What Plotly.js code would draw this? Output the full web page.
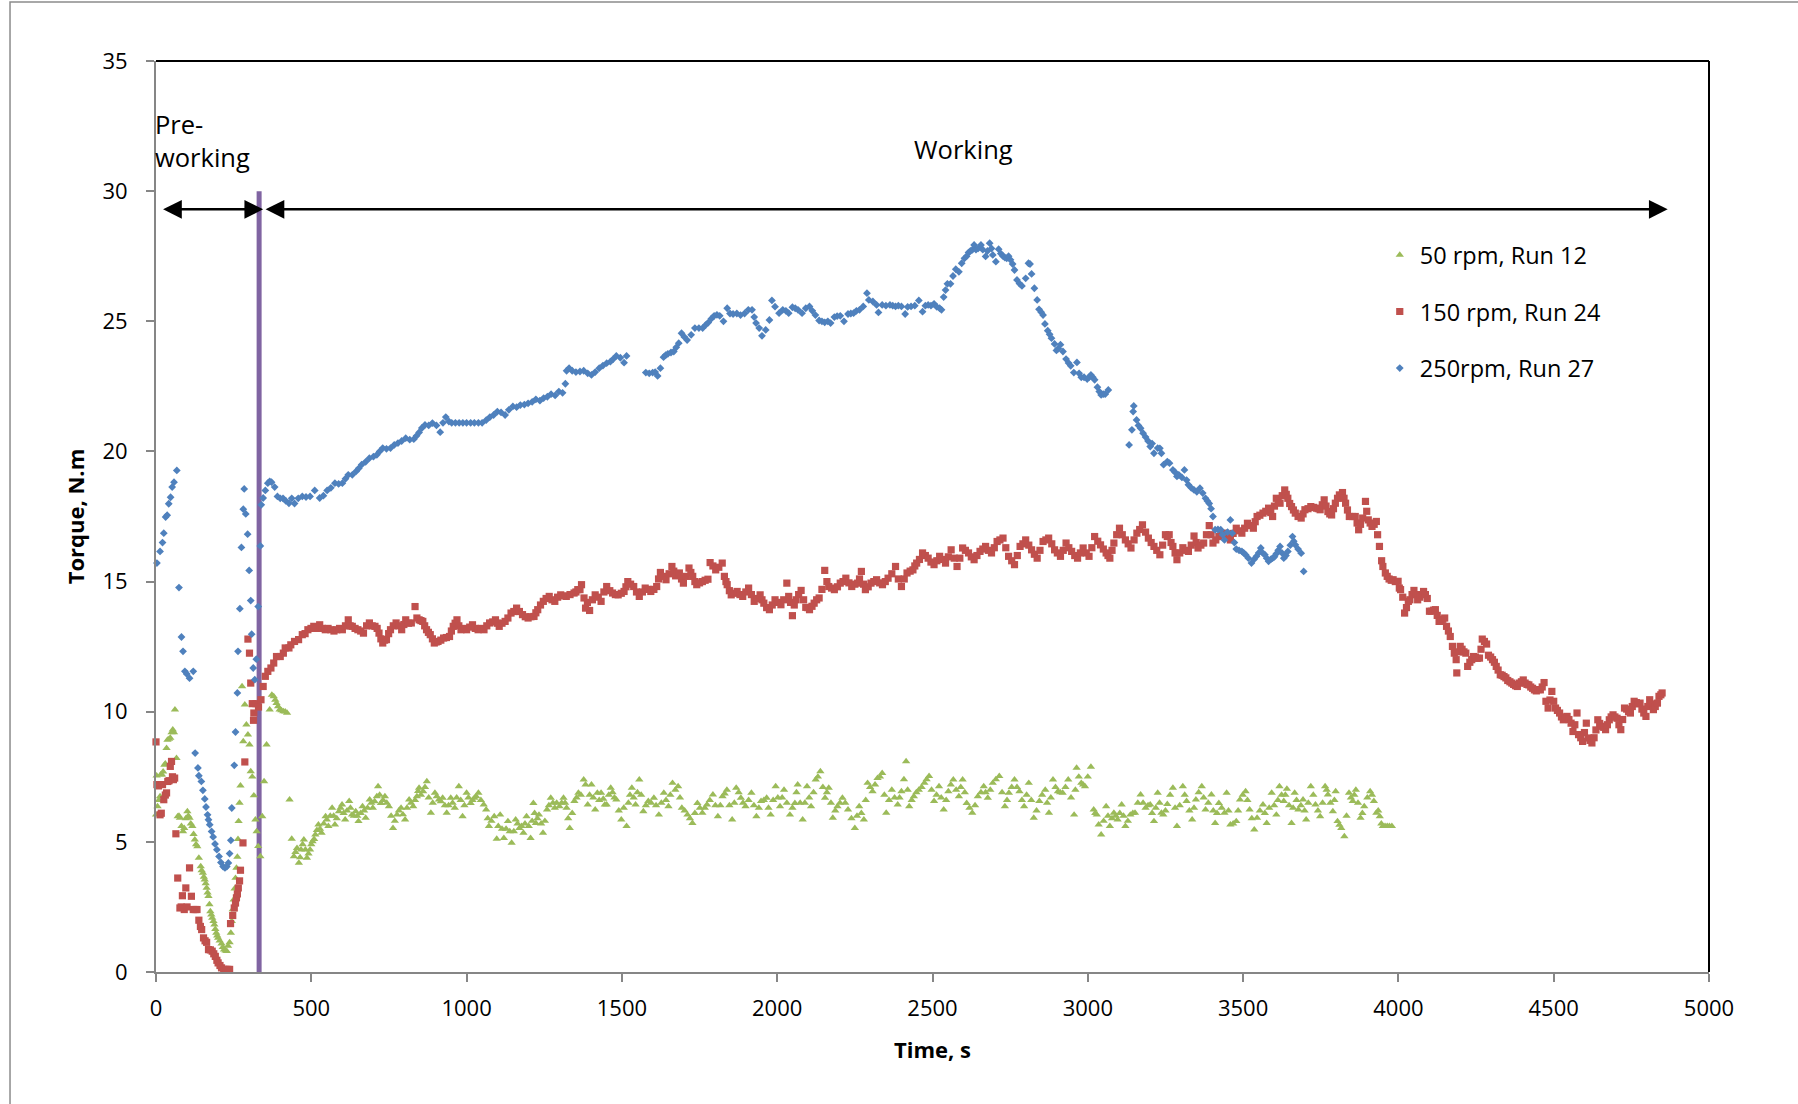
<!DOCTYPE html>
<html>
<head>
<meta charset="utf-8">
<script src="https://cdn.plot.ly/plotly-3.0.1.min.js"></script>
<style>html,body{margin:0;padding:0;background:#fff;}#chart{width:1798px;height:1104px;}</style>
</head>
<body>
<div id="chart"></div>
<script>
// ---- Data: [time (s), torque (N.m)] ----
const run12_50rpm = [
[0,6.04],[2,7.54],[5,6.36],[9,6.6],[13,6.75],[15,7.58],[19,7.58],[23,7.7],[27,7.96],[30,8.0],[34,8.6],[37,8.92],[42,8.95],[46,8.99],[50,9.2],[54,9.31],[58,9.2],[61,10.08],[66,8.22],[70,5.98],[74,6.0],[77,5.92],[82,5.6],[87,5.4],[91,5.53],[96,5.9],[101,6.17],[104,6.0],[108,5.92],[112,5.7],[117,5.6],[121,5.3],[125,5.08],[129,4.9],[133,4.82],[138,4.38],[144,4.06],[147,3.9],[151,3.81],[154,3.65],[157,3.55],[160,3.4],[163,3.23],[166,3.05],[169,2.91],[172,2.6],[175,2.33],[178,2.2],[181,2.08],[185,1.95],[188,1.82],[191,1.65],[194,1.5],[197,1.4],[200,1.31],[205,1.2],[211,1.09],[215,0.95],[219,0.86],[224,0.82],[228,0.8],[232,1.0],[237,1.14],[241,1.5],[244,1.95],[247,2.4],[250,2.78],[253,3.2],[256,3.61],[259,4.0],[262,4.42],[264,5.1],[266,5.79],[269,6.5],[272,7.16],[277,10.97],[281,8.86],[286,10.27],[291,9.5],[296,9.12],[301,8.73],[305,7.71],[310,7.5],[315,6.78],[320,5.85],[324,5.4],[329,4.83],[336,4.44],[342,5.98],[348,7.32],[356,8.73],[366,10.08],[373,10.65],[379,10.59],[384,10.45],[388,10.33],[393,10.2],[398,10.08],[404,10.05],[410,10.01],[416,10.0],[422,9.95],
[430,6.62],[437,5.11],[444,4.44],[449,4.6],[454,4.76],[460,4.19],[464,4.4],[467,4.7],[472,4.9],[476,5.08],[481,4.7],[486,4.38],[491,4.55],[496,4.7],[500,4.9],[504,5.02],[509,5.1],[513,5.28],[518,5.45],[523,5.66],[528,5.5],[533,5.34],[540,5.7],[546,5.98],[550,5.85],[555,5.6],[561,6.0],[567,6.3],[572,6.0],[576,5.66],[582,5.9],[589,6.17],[594,6.3],[599,6.43],[604,6.1],[609,5.85],[615,6.2],[622,6.56],[626,6.3],[631,6.04],[637,6.0],[643,6.17],[648,6.0],[652,5.79],[659,6.1],[665,6.36],[670,6.2],[675,5.92],[681,6.3],[688,6.62],[693,6.5],[698,6.3],[704,6.55],[711,6.75],[715,7.13],[720,6.8],[724,6.49],[731,6.6],[737,6.75],[743,6.5],[750,6.36],[757,6.0],[763,5.53],[769,5.8],[776,6.04],[782,6.2],[789,6.3],[795,6.05],[802,5.85],[808,6.3],[815,6.62],[821,6.5],[828,6.36],[834,6.6],[840,6.75],[844,6.95],[847,7.07],[853,6.8],[860,6.94],[866,7.1],[872,7.32],[878,6.7],[885,6.11],[891,6.5],[898,6.88],[904,6.75],[911,6.62],[917,6.55],[923,6.69],[930,6.4],[936,6.11],[942,6.4],[949,6.69],[955,6.5],[962,6.3],[968,6.7],[975,7.13],[981,6.6],[987,5.98],[993,6.4],[1000,6.88],[1006,6.7],[1013,6.49],[1019,6.6],[1025,6.69],[1031,6.75],[1038,6.88],[1046,6.6],[1055,6.43],[1063,6.24],[1068,5.9],[1072,5.6],[1080,5.8],[1089,5.98],[1097,5.11],[1102,5.6],[1108,6.04],[1114,5.5],[1120,5.14],[1127,5.5],[1133,5.79],[1139,5.4],[1145,4.96],[1152,5.4],[1158,5.85],[1164,5.7],[1170,5.53],[1177,5.6],[1183,5.34],[1188,5.7],[1193,5.98],[1200,5.6],[1206,5.14],[1211,5.8],[1215,6.49],[1219,6.1],[1223,5.72],[1228,5.9],[1233,6.04],[1240,5.7],[1246,5.34],[1252,5.8],[1259,6.24],[1265,6.4],[1271,6.69],[1278,6.5],[1284,6.3],[1290,6.5],[1299,6.36],[1306,6.5],[1312,6.69],[1317,6.5],[1322,6.3],[1327,5.9],[1332,5.53],[1340,6.1],[1347,6.56],[1354,6.7],[1360,6.88],[1368,6.8],[1377,7.39],[1383,7.2],[1390,6.43],[1396,6.8],[1402,7.2],[1408,6.7],[1414,6.24],[1421,6.88],[1427,6.6],[1433,6.88],[1440,6.65],[1445,6.43],[1451,6.43],[1458,6.8],[1464,7.07],[1470,6.9],[1476,6.7],[1482,6.62],[1490,6.2],[1498,5.85],[1506,6.3],[1515,5.6],[1521,6.5],[1526,6.8],[1532,7.07],[1538,6.7],[1544,6.43],[1550,6.9],[1556,7.39],[1562,6.8],[1569,6.17],[1577,6.4],[1585,6.56],[1594,6.5],[1603,6.69],[1610,6.4],[1619,6.04],[1627,6.5],[1635,6.88],[1642,6.6],[1650,6.36],[1656,6.8],[1663,7.26],[1672,7.0],[1681,7.13],[1687,6.7],[1693,6.3],[1702,6.2],[1711,6.04],[1719,5.9],[1727,5.72],[1735,6.1],[1743,6.49],[1751,6.3],[1759,6.11],[1767,6.3],[1774,6.43],[1783,6.6],[1793,6.81],[1801,6.4],[1809,5.98],[1817,6.4],[1824,6.75],[1831,6.85],[1838,7.0],[1846,6.4],[1855,5.85],[1862,6.5],[1868,7.07],[1876,6.9],[1883,6.69],[1890,6.5],[1898,6.36],[1908,6.6],[1917,6.88],[1925,6.4],[1933,5.98],[1941,6.3],[1948,6.56],[1957,6.6],[1966,6.69],[1972,6.3],[1979,6.04],[1987,6.6],[1995,7.13],[2002,6.7],[2009,6.36],[2016,6.7],[2022,7.0],[2031,6.5],[2041,6.04],[2049,6.3],[2057,6.49],[2062,6.9],[2066,7.2],[2074,6.5],[2082,5.85],[2089,6.5],[2096,7.13],[2103,6.7],[2109,6.36],[2117,6.9],[2124,7.39],[2131,7.5],[2139,7.71],[2147,7.1],[2154,6.69],[2160,6.9],[2166,7.07],[2173,6.5],[2179,5.92],[2187,6.2],[2194,6.36],[2202,6.5],[2210,6.69],[2219,6.5],[2228,6.24],[2239,5.9],[2250,5.53],[2257,6.0],[2264,6.36],[2271,6.1],[2279,5.85],[2285,6.6],[2291,7.26],[2299,7.1],[2307,6.94],[2315,7.2],[2323,7.45],[2331,7.5],[2338,7.64],[2345,6.8],[2351,6.11],[2360,6.6],[2369,7.0],[2378,6.7],[2388,6.43],[2394,6.7],[2400,6.94],[2408,7.4],[2415,8.09],[2420,7.0],[2425,6.36],[2433,6.6],[2440,6.75],[2448,6.9],[2456,7.0],[2465,7.1],[2474,7.26],[2481,7.4],[2489,7.52],[2497,7.0],[2505,6.56],[2513,6.8],[2521,7.13],[2528,6.7],[2536,6.24],[2544,6.6],[2551,6.94],[2559,7.2],[2567,7.39],[2576,7.0],[2585,6.75],[2591,7.1],[2597,7.39],[2604,6.9],[2610,6.49],[2619,6.3],[2628,6.11],[2637,6.4],[2646,6.75],[2656,6.9],[2665,7.13],[2671,6.9],[2678,6.69],[2686,7.0],[2694,7.26],[2704,7.4],[2715,7.52],[2724,6.9],[2733,6.36],[2740,6.6],[2746,6.88],[2755,7.1],[2764,7.39],[2772,7.1],[2780,6.94],[2788,6.6],[2795,6.36],[2803,6.8],[2810,7.26],[2818,6.6],[2826,5.92],[2835,6.2],[2844,6.56],[2853,6.8],[2863,7.0],[2869,6.5],[2875,6.11],[2881,6.7],[2888,7.39],[2896,7.1],[2904,6.94],[2911,6.9],[2919,6.88],[2928,7.1],[2937,7.39],[2946,6.7],[2956,6.04],[2960,7.0],[2964,7.84],[2971,7.5],[2979,7.26],[2985,7.2],[2991,7.13],[3000,7.5],[3010,7.88],[3019,6.24],[3024,6.1],[3029,6.04],[3035,5.66],[3043,5.28],[3051,5.8],[3059,6.36],[3065,6.0],[3071,5.6],[3078,5.9],[3084,6.11],[3090,6.0],[3096,5.85],[3103,6.1],[3109,6.43],[3115,6.0],[3121,5.6],[3129,5.8],[3137,6.04],[3145,6.1],[3152,6.11],[3161,6.5],[3170,6.81],[3178,6.5],[3186,6.3],[3194,6.4],[3201,6.43],[3207,6.1],[3213,5.79],[3219,6.3],[3225,6.88],[3231,6.5],[3237,6.11],[3243,6.04],[3250,6.2],[3256,6.45],[3265,6.8],[3274,7.07],[3281,6.3],[3287,5.6],[3296,6.4],[3306,7.13],[3312,6.8],[3318,6.56],[3327,6.2],[3336,5.85],[3342,6.3],[3348,6.62],[3357,6.9],[3367,7.13],[3373,6.7],[3379,6.24],[3388,6.5],[3398,6.81],[3404,6.2],[3410,5.72],[3416,6.1],[3422,6.49],[3431,6.3],[3440,6.11],[3447,6.88],[3453,6.2],[3459,5.66],[3468,5.7],[3478,5.79],[3484,6.2],[3490,6.62],[3499,6.8],[3508,6.94],[3514,6.6],[3521,6.24],[3528,5.9],[3536,5.47],[3545,5.92],[3554,6.2],[3564,6.43],[3570,6.1],[3576,5.72],[3584,6.3],[3592,6.88],[3600,6.4],[3607,6.04],[3612,6.6],[3617,7.13],[3624,6.8],[3631,6.56],[3636,6.8],[3641,7.03],[3648,6.4],[3656,5.72],[3661,6.3],[3666,6.88],[3672,6.6],[3678,6.24],[3686,6.4],[3693,6.62],[3698,6.2],[3703,5.85],[3710,6.5],[3718,7.13],[3726,6.8],[3733,6.43],[3741,6.2],[3748,5.98],[3756,6.5],[3764,7.13],[3769,7.0],[3773,6.81],[3781,6.5],[3789,6.17],[3794,6.6],[3798,6.94],[3804,5.79],[3810,5.65],[3816,5.53],[3826,5.21],[3833,6.0],[3841,6.88],[3847,6.7],[3853,6.56],[3858,6.8],[3863,7.0],[3870,6.5],[3878,5.92],[3884,6.1],[3890,6.36],[3900,6.7],[3909,6.94],[3915,6.8],[3921,6.56],[3929,6.11],[3935,6.2],[3940,5.98],[3945,5.7],[3950,5.6],[3957,5.6],[3964,5.6],[3971,5.6],[3979,5.6]
];

const run24_150rpm = [
[0,8.84],[3,7.2],[8,7.15],[13,6.04],[17,6.1],[21,7.2],[25,6.62],[30,6.8],[34,6.88],[38,7.32],[42,7.35],[46,7.9],[50,8.09],[53,7.5],[56,7.39],[60,7.45],[64,5.31],[70,3.61],[77,2.46],[81,2.5],[85,2.93],[91,2.4],[96,3.23],[100,2.5],[108,4.0],[114,2.91],[120,2.4],[126,2.4],[132,2.4],[138,1.99],[143,1.75],[147,1.63],[153,1.31],[158,1.2],[163,1.14],[169,0.86],[175,0.85],[181,0.8],[186,0.7],[191,0.6],[196,0.45],[200,0.35],[206,0.25],[211,0.16],[218,0.1],[225,0.1],[231,0.1],[237,0.1],[240,1.86],[247,2.17],[252,2.46],[256,2.65],[259,2.85],[262,3.0],[265,3.23],[269,3.5],[272,3.91],[280,4.96],[286,8.07],[296,12.79],[301,12.25],[305,11.1],[310,10.31],[314,9.67],[315,9.95],[322,10.31],[330,10.18],[338,10.46],[345,10.97],[352,11.36],[360,11.55],[370,11.68],[379,11.87],[388,12.12],[400,12.12],[410,12.25],[416,12.45],[428,12.45],[434,12.57],[446,12.7],[459,12.77],[471,12.96],[480,13.0],[489,13.15],[499,13.2],[508,13.28],[517,13.2],[527,13.34],[536,13.2],[545,13.15],[554,13.2],[563,13.15],[573,13.1],[582,13.15],[591,13.2],[600,13.15],[610,13.3],[619,13.53],[625,13.3],[632,13.28],[641,13.2],[650,13.15],[659,13.1],[668,13.02],[678,13.3],[687,13.41],[696,13.3],[705,13.28],[712,13.2],[718,13.02],[724,12.8],[730,12.64],[736,12.75],[742,12.77],[749,13.0],[755,13.15],[764,13.3],[773,13.41],[782,13.3],[791,13.15],[798,13.35],[804,13.53],[813,13.4],[822,13.41],[834,14.04],[840,13.6],[847,13.53],[853,13.5],[859,13.47],[865,13.3],[871,13.15],[877,13.05],[883,12.96],[890,12.8],[896,12.64],[902,12.68],[908,12.7],[917,12.75],[926,12.83],[935,12.85],[945,12.89],[951,13.1],[957,13.28],[963,13.4],[969,13.53],[975,13.3],[982,13.15],[991,13.2],[1000,13.15],[1010,13.25],[1019,13.34],[1028,13.2],[1037,13.15],[1047,13.2],[1056,13.15],[1065,13.3],[1074,13.41],[1084,13.45],[1093,13.53],[1099,13.4],[1105,13.28],[1114,13.4],[1124,13.47],[1133,13.6],[1143,13.79],[1152,13.85],[1161,13.98],[1170,13.85],[1180,13.73],[1189,13.65],[1198,13.6],[1207,13.65],[1217,13.66],[1223,13.8],[1229,13.92],[1238,14.1],[1247,14.24],[1256,14.35],[1266,14.43],[1275,14.3],[1284,14.24],[1293,14.4],[1303,14.49],[1312,14.45],[1321,14.43],[1333,14.5],[1346,14.56],[1352,14.6],[1358,14.69],[1365,14.69],[1370,14.88],[1378,14.37],[1383,13.98],[1389,14.2],[1396,13.89],[1405,14.3],[1414,14.49],[1424,14.4],[1433,14.24],[1442,14.6],[1451,14.81],[1461,14.65],[1470,14.56],[1479,14.5],[1488,14.49],[1498,14.55],[1507,14.62],[1513,14.8],[1519,15.0],[1528,14.9],[1538,14.81],[1547,14.6],[1556,14.43],[1566,14.6],[1575,14.75],[1584,14.7],[1593,14.62],[1603,14.7],[1612,14.81],[1618,15.1],[1624,15.35],[1633,15.2],[1642,15.07],[1652,15.3],[1661,15.58],[1667,15.4],[1673,15.22],[1679,15.3],[1685,15.33],[1692,15.1],[1698,14.94],[1707,15.2],[1716,15.52],[1722,15.35],[1728,15.2],[1735,15.0],[1741,14.88],[1750,14.95],[1759,15.0],[1768,15.05],[1777,15.09],[1784,15.73],[1793,15.6],[1802,15.45],[1812,15.55],[1823,15.71],[1830,15.2],[1835,15.0],[1839,14.88],[1846,14.65],[1852,14.49],[1862,14.55],[1871,14.62],[1880,14.5],[1889,14.43],[1899,14.6],[1908,14.75],[1917,14.5],[1926,14.24],[1936,14.35],[1945,14.49],[1951,14.3],[1957,14.17],[1966,14.0],[1975,13.92],[1984,14.1],[1993,14.3],[2003,14.2],[2012,14.11],[2021,14.3],[2031,14.94],[2037,14.43],[2043,14.2],[2049,13.69],[2055,14.1],[2061,14.3],[2069,14.5],[2077,14.66],[2085,14.3],[2092,14.01],[2098,14.0],[2104,13.92],[2112,14.05],[2119,14.17],[2127,14.3],[2135,14.37],[2144,14.7],[2153,15.43],[2160,15.0],[2166,14.81],[2175,14.75],[2184,14.69],[2194,14.8],[2203,14.94],[2212,15.0],[2221,15.13],[2231,14.95],[2240,14.81],[2250,14.9],[2259,14.94],[2265,15.1],[2271,15.39],[2278,14.9],[2284,14.69],[2293,14.8],[2302,14.94],[2311,15.0],[2320,15.07],[2330,14.95],[2339,14.88],[2348,15.0],[2357,15.13],[2369,15.3],[2381,15.58],[2390,15.1],[2400,14.81],[2409,15.1],[2418,15.33],[2428,15.4],[2437,15.45],[2443,15.6],[2449,15.71],[2458,15.85],[2468,16.1],[2477,16.0],[2486,15.9],[2495,15.75],[2505,15.65],[2514,15.8],[2523,15.97],[2532,15.85],[2542,15.71],[2551,15.95],[2560,16.22],[2570,15.9],[2579,15.58],[2588,15.9],[2597,16.29],[2606,16.2],[2616,16.1],[2625,15.95],[2634,15.84],[2643,16.0],[2653,16.16],[2662,16.25],[2671,16.35],[2680,16.2],[2690,16.1],[2699,16.3],[2708,16.54],[2717,16.6],[2727,16.67],[2736,16.3],[2745,15.97],[2755,15.8],[2764,15.65],[2773,16.0],[2782,16.35],[2791,16.45],[2800,16.6],[2810,16.4],[2819,16.22],[2828,16.05],[2837,15.9],[2846,16.2],[2856,16.54],[2865,16.6],[2874,16.67],[2884,16.45],[2893,16.22],[2902,16.1],[2912,15.97],[2921,16.2],[2930,16.48],[2939,16.3],[2948,16.16],[2958,16.0],[2967,15.9],[2976,16.1],[2985,16.29],[2995,16.1],[3004,15.97],[3013,16.3],[3022,16.73],[3032,16.55],[3041,16.41],[3050,16.25],[3059,16.1],[3065,16.0],[3071,15.9],[3078,16.2],[3084,16.48],[3093,16.8],[3102,17.05],[3111,16.8],[3121,16.6],[3130,16.45],[3139,16.29],[3149,16.6],[3158,16.86],[3167,17.0],[3176,17.18],[3186,16.9],[3195,16.67],[3204,16.5],[3213,16.35],[3222,16.2],[3232,16.03],[3241,16.4],[3250,16.8],[3256,16.73],[3262,16.8],[3268,16.5],[3274,16.35],[3281,16.1],[3287,15.84],[3296,16.1],[3306,16.3],[3315,16.2],[3324,16.16],[3333,16.4],[3342,16.75],[3349,16.5],[3355,16.29],[3364,16.4],[3373,16.48],[3382,16.8],[3391,17.15],[3397,16.8],[3403,16.48],[3412,16.6],[3422,16.73],[3431,16.8],[3440,16.86],[3450,16.7],[3459,16.6],[3468,16.85],[3478,17.05],[3487,16.95],[3496,16.86],[3505,17.05],[3514,17.24],[3524,17.15],[3533,17.05],[3539,17.3],[3545,17.5],[3554,17.55],[3564,17.63],[3573,17.7],[3582,17.82],[3589,17.65],[3595,17.5],[3601,17.9],[3607,18.2],[3613,18.1],[3619,18.01],[3626,18.3],[3634,18.52],[3639,18.35],[3644,18.2],[3650,18.0],[3656,17.88],[3662,17.75],[3668,17.63],[3677,17.5],[3687,17.44],[3693,17.6],[3699,17.76],[3709,17.8],[3718,17.88],[3727,17.85],[3736,17.82],[3742,17.8],[3748,17.76],[3755,17.95],[3761,18.14],[3767,17.9],[3773,17.69],[3779,17.6],[3785,17.56],[3791,17.8],[3797,18.01],[3804,18.2],[3810,18.33],[3820,18.42],[3825,18.2],[3830,18.01],[3836,17.75],[3842,17.5],[3852,17.5],[3861,17.5],[3867,17.25],[3872,16.99],[3878,17.2],[3885,17.44],[3894,18.08],[3898,17.7],[3903,17.37],[3909,17.25],[3915,17.12],[3922,17.2],[3929,17.31],[3933,16.8],[3939,16.35],[3946,15.8],[3950,15.58],[3958,15.33],[3964,15.2],[3970,15.1],[3977,15.05],[3983,15.07],[3990,15.0],[3999,15.01],[4003,14.75],[4007,14.69],[4014,14.4],[4020,13.79],[4026,14.0],[4032,14.24],[4037,14.3],[4044,14.5],[4050,14.66],[4056,14.5],[4062,14.3],[4069,14.4],[4075,14.5],[4081,14.62],[4087,14.5],[4093,14.35],[4100,13.86],[4106,13.86],[4113,13.9],[4119,13.92],[4125,13.7],[4131,13.47],[4137,13.47],[4143,13.55],[4149,13.6],[4155,13.28],[4161,13.1],[4167,12.89],[4174,12.51],[4180,12.25],[4186,12.0],[4188,11.49],[4193,12.3],[4199,12.51],[4205,12.4],[4211,12.3],[4217,12.25],[4223,11.74],[4230,11.9],[4236,12.0],[4242,12.12],[4248,12.1],[4254,12.05],[4261,12.06],[4266,12.4],[4270,12.79],[4277,12.7],[4284,12.6],[4290,12.17],[4297,12.1],[4303,12.0],[4309,11.9],[4315,11.74],[4321,11.6],[4328,11.42],[4334,11.4],[4340,11.35],[4346,11.3],[4352,11.2],[4359,11.15],[4365,11.1],[4371,11.05],[4377,11.0],[4383,10.97],[4390,11.1],[4396,11.15],[4402,11.22],[4408,11.1],[4414,11.05],[4420,11.03],[4426,10.95],[4432,10.9],[4438,10.84],[4444,10.8],[4451,10.85],[4457,10.84],[4463,10.95],[4469,11.12],[4475,10.4],[4482,10.14],[4488,10.45],[4494,10.78],[4500,10.4],[4506,10.14],[4512,10.05],[4519,9.95],[4525,9.8],[4531,9.69],[4537,9.75],[4543,9.82],[4549,9.7],[4556,9.56],[4562,9.24],[4568,9.5],[4575,9.95],[4580,9.12],[4587,9.0],[4593,8.86],[4599,9.2],[4605,9.56],[4611,8.99],[4617,8.9],[4623,8.8],[4630,9.0],[4636,9.3],[4642,9.69],[4648,9.55],[4654,9.44],[4661,9.4],[4667,9.31],[4673,9.5],[4679,9.69],[4685,9.8],[4691,9.88],[4697,9.8],[4704,9.75],[4710,9.5],[4716,9.31],[4722,9.7],[4728,10.14],[4735,10.1],[4741,10.0],[4747,9.95],[4753,10.2],[4759,10.4],[4766,10.35],[4772,10.3],[4778,10.33],[4784,10.1],[4790,9.95],[4797,9.82],[4803,10.2],[4809,10.46],[4815,10.3],[4821,10.08],[4827,10.2],[4834,10.33],[4839,10.59],[4845,10.65],[4849,10.72]
];

const run27_250rpm = [
[3,15.71],[13,16.16],[21,16.5],[25,16.86],[31,17.48],[36,17.55],[41,17.99],[47,18.24],[52,18.63],[58,18.82],[67,19.27],[74,14.77],[82,12.87],[87,12.32],[93,11.55],[99,11.45],[108,11.29],[120,11.55],[126,8.41],[135,7.84],[138,7.54],[146,7.32],[151,6.98],[157,6.65],[161,6.34],[166,6.04],[169,5.85],[173,5.66],[179,5.4],[184,5.19],[190,4.92],[196,4.7],[203,4.44],[209,4.21],[216,4.05],[222,4.0],[228,4.05],[233,4.19],[237,4.55],[241,5.06],[244,6.3],[252,7.94],[256,9.22],[262,10.72],[264,12.32],[270,13.96],[275,16.31],[281,17.78],[284,18.56],[289,17.6],[295,16.82],[300,15.43],[305,14.27],[308,12.98],[313,11.68],[318,11.23],[323,12.02],[329,14.04],[336,16.37],[339,17.95],[345,18.21],[352,18.5],[360,18.78],[366,18.85],[372,18.82],[382,18.63],[391,18.27],[400,18.2],[409,18.2],[418,18.1],[428,18.01],[437,18.2],[446,18.0],[458,18.2],[471,18.27],[483,18.25],[496,18.27],[511,18.5],[527,18.21],[539,18.3],[551,18.5],[563,18.6],[576,18.78],[588,18.75],[600,18.78],[610,18.95],[619,19.1],[632,19.1],[644,19.23],[653,19.35],[662,19.49],[675,19.6],[687,19.74],[700,19.8],[711,19.87],[720,20.0],[730,20.13],[742,20.1],[755,20.13],[767,20.25],[779,20.32],[791,20.4],[804,20.51],[817,20.45],[830,20.47],[839,20.6],[847,20.73],[856,20.9],[866,21.02],[878,21.0],[890,21.09],[903,21.0],[915,20.74],[924,21.1],[933,21.32],[943,21.15],[952,21.1],[964,21.1],[976,21.1],[988,21.1],[1000,21.1],[1013,21.1],[1025,21.1],[1038,21.1],[1050,21.1],[1063,21.2],[1075,21.32],[1087,21.4],[1099,21.53],[1111,21.5],[1124,21.4],[1136,21.6],[1149,21.73],[1161,21.7],[1173,21.78],[1186,21.8],[1198,21.85],[1211,21.9],[1223,22.0],[1236,21.95],[1248,22.05],[1260,22.1],[1272,22.2],[1285,22.15],[1297,22.3],[1309,22.25],[1318,22.6],[1322,23.1],[1330,23.2],[1340,23.1],[1352,23.05],[1365,23.07],[1377,23.1],[1390,23.0],[1402,22.94],[1414,23.05],[1427,23.2],[1439,23.3],[1451,23.39],[1463,23.45],[1472,23.55],[1482,23.67],[1495,23.6],[1507,23.41],[1515,23.67],
[1577,23.03],[1588,23.0],[1599,23.03],[1607,23.05],[1615,22.9],[1624,23.2],[1634,23.62],[1641,23.7],[1648,23.75],[1658,23.8],[1667,23.84],[1675,24.0],[1683,24.16],[1692,24.54],[1701,24.4],[1710,24.28],[1723,24.48],[1735,24.74],[1748,24.74],[1760,24.74],[1769,24.85],[1778,24.95],[1788,25.1],[1797,25.21],[1806,25.25],[1815,25.21],[1827,25.0],[1839,25.5],[1848,25.3],[1858,25.28],[1870,25.3],[1882,25.24],[1895,25.3],[1907,25.44],[1919,25.44],[1926,25.16],[1932,24.93],[1942,24.74],[1951,24.44],[1963,24.67],[1975,25.05],[1983,25.8],[1993,25.56],[2006,25.31],[2018,25.44],[2028,25.4],[2037,25.31],[2049,25.54],[2058,25.5],[2067,25.44],[2080,25.31],[2092,25.5],[2104,25.57],[2113,25.4],[2123,25.24],[2135,25.03],[2144,25.0],[2153,24.96],[2163,25.0],[2172,24.93],[2184,25.16],[2193,25.2],[2203,25.21],[2215,25.0],[2228,25.28],[2237,25.3],[2246,25.31],[2255,25.4],[2265,25.44],[2277,25.57],[2289,26.08],[2295,25.82],[2308,25.76],[2320,25.63],[2326,25.34],[2338,25.63],[2350,25.6],[2363,25.63],[2372,25.6],[2381,25.57],[2390,25.6],[2400,25.57],[2412,25.28],[2420,25.55],[2431,25.57],[2443,25.6],[2456,25.8],[2468,25.37],[2477,25.6],[2486,25.63],[2495,25.6],[2505,25.67],[2514,25.55],[2523,25.5],[2529,25.44],[2536,25.93],[2542,26.2],[2548,26.44],[2558,26.44],[2566,26.74],[2575,27.0],[2585,26.9],[2594,27.23],[2603,27.42],[2610,27.5],[2616,27.64],[2622,27.7],[2628,27.74],[2634,27.93],[2640,27.75],[2647,27.8],[2656,27.93],[2662,27.75],[2671,27.49],[2677,27.7],[2684,28.0],[2690,27.8],[2694,27.55],[2704,27.29],[2713,27.77],[2720,27.6],[2727,27.5],[2733,27.45],[2739,27.42],[2745,27.5],[2751,27.36],[2758,27.2],[2764,26.97],[2772,26.59],[2780,26.45],[2788,26.36],[2800,26.65],[2809,27.23],[2814,27.2],[2819,26.82],[2828,26.27],[2837,25.82],[2843,25.46],[2850,25.35],[2856,25.24],[2862,24.9],[2871,24.64],[2877,24.5],[2883,24.35],[2893,24.13],[2899,23.88],[2905,23.95],[2912,24.1],[2920,23.84],[2930,23.55],[2938,23.4],[2945,23.29],[2955,23.03],[2965,23.42],[2972,23.0],[2979,22.85],[2988,22.85],[2998,22.78],[3004,22.85],[3010,22.94],[3016,22.85],[3022,22.75],[3031,22.47],[3037,22.3],[3043,22.17],[3050,22.2],[3056,22.2],[3066,22.36],
[3133,20.25],[3142,20.83],[3146,21.53],[3148,21.75],[3157,21.21],[3163,21.0],[3170,20.89],[3178,20.7],[3186,20.55],[3194,20.4],[3201,20.19],[3207,20.3],[3213,19.93],[3225,20.13],[3232,20.12],[3237,19.93],[3244,19.49],[3256,19.61],[3263,19.55],[3274,19.29],[3281,19.2],[3287,19.04],[3293,19.1],[3303,19.0],[3311,19.29],[3318,18.9],[3324,18.72],[3333,18.6],[3342,18.52],[3351,18.45],[3361,18.59],[3370,18.4],[3379,18.2],[3385,18.1],[3391,18.0],[3397,17.8],[3403,17.5],[3410,16.99],[3419,17.0],[3428,16.99],[3434,16.8],[3440,16.6],[3450,16.9],[3459,17.37],[3465,16.86],[3472,16.5],[3478,16.25],[3487,16.2],[3496,16.16],[3502,16.1],[3508,16.03],[3517,15.9],[3527,15.71],[3535,15.85],[3543,15.97],[3550,16.1],[3557,16.29],[3563,16.1],[3570,16.03],[3576,15.9],[3582,15.78],[3589,15.85],[3595,15.9],[3601,15.95],[3607,16.07],[3613,16.2],[3619,16.35],[3625,16.1],[3631,15.9],[3638,16.0],[3644,16.16],[3652,16.4],[3659,16.73],[3663,16.55],[3668,16.41],[3677,16.25],[3687,16.09],[3695,15.39]
];

const seriesNames = ['50 rpm, Run 12', '150 rpm, Run 24', '250rpm, Run 27'];
const seriesColors = ['#9BBB59', '#C0504D', '#4F81BD'];
const xTicks = [0, 500, 1000, 1500, 2000, 2500, 3000, 3500, 4000, 4500, 5000];
const yTicks = [0, 5, 10, 15, 20, 25, 30, 35];

// Phase annotation values (data units)
const phaseBoundary = 332;      // s, end of pre-working
const phaseLineTop = 30;        // N.m
const arrowLevel = 29.3;        // N.m
const preArrowSpan = [18, 345];
const workArrowSpan = [348, 4867];

const FONT = 'Open Sans, Lato, Liberation Sans, sans-serif';

function mk(data, i, symbol, size) {
  return {
    type: 'scatter', mode: 'markers',
    x: data.map(p => p[0]), y: data.map(p => p[1]),
    name: seriesNames[i], legendgroup: 'g' + i,
    cliponaxis: false,
    marker: {symbol: symbol, size: size, color: seriesColors[i], line: {width: 0}}
  };
}

const traces = [
  mk(run12_50rpm, 0, 'triangle-up', 7.3),
  mk(run24_150rpm, 1, 'square', 7.2),
  mk(run27_250rpm, 2, 'diamond', 6)
];

function arrow(span) {
  return {
    x: span[1], y: arrowLevel, ax: span[0], ay: arrowLevel,
    xref: 'x', yref: 'y', axref: 'x', ayref: 'y',
    text: '', showarrow: true, arrowside: 'end+start',
    arrowhead: 2, startarrowhead: 2, arrowsize: 1.5, startarrowsize: 1.5,
    arrowwidth: 2.5, arrowcolor: '#000', standoff: 0, startstandoff: 0
  };
}

const layout = {
  width: 1798, height: 1104,
  margin: {l: 156, r: 89, t: 61, b: 132, pad: 0},
  paper_bgcolor: '#fff', plot_bgcolor: '#fff',
  font: {family: FONT, color: '#000'},
  showlegend: true,
  legend: {
    x: 0.788, y: 0.811, xanchor: 'left', yanchor: 'top',
    font: {family: FONT, size: 23.5, color: '#000'},
    bgcolor: 'rgba(0,0,0,0)', borderwidth: 0,
    traceorder: 'grouped', tracegroupgap: 23, itemsizing: 'trace'
  },
  xaxis: {
    range: [0, 5000], tickvals: xTicks, ticktext: xTicks.map(String),
    ticks: 'outside', ticklen: 8, tickwidth: 2, tickcolor: '#868686',
    showline: true, linecolor: '#868686', linewidth: 2,
    showgrid: false, zeroline: false, ticklabelstandoff: 8,
    tickfont: {family: FONT, size: 22, color: '#000'},
    title: {text: 'Time, s', font: {family: FONT, size: 22, weight: 'bold', color: '#000'}, standoff: 21},
    automargin: false
  },
  yaxis: {
    range: [0, 35], tickvals: yTicks, ticktext: yTicks.map(String),
    ticks: 'outside', ticklen: 8, tickwidth: 2, tickcolor: '#868686',
    showline: true, linecolor: '#868686', linewidth: 2,
    showgrid: false, zeroline: false, ticklabelstandoff: 14,
    tickfont: {family: FONT, size: 22, color: '#000'},
    title: {text: 'Torque, N.m', font: {family: FONT, size: 22, weight: 'bold', color: '#000'}, standoff: 12},
    automargin: false
  },
  shapes: [
    // outer chart-area border
    {type: 'rect', xref: 'paper', yref: 'paper', x0: -0.094, x1: 1.08, y0: -0.2, y1: 1.0647,
     line: {color: '#8c8c8c', width: 1.5}, fillcolor: 'rgba(0,0,0,0)', layer: 'below'},
    // top and right plot-area border
    {type: 'line', xref: 'paper', yref: 'paper', x0: 0, x1: 1, y0: 1, y1: 1, line: {color: '#000', width: 2}},
    {type: 'line', xref: 'paper', yref: 'paper', x0: 1, x1: 1, y0: 0, y1: 1, line: {color: '#000', width: 2}},
    // phase boundary
    {type: 'line', xref: 'x', yref: 'y', x0: phaseBoundary, x1: phaseBoundary, y0: 0, y1: phaseLineTop,
     line: {color: '#8064A2', width: 5}, layer: 'below'}
  ],
  annotations: [
    arrow(preArrowSpan),
    arrow(workArrowSpan),
    {x: 0, y: 31.95, xref: 'x', yref: 'y', xanchor: 'left', yanchor: 'middle', align: 'left', xshift: -3,
     text: 'Pre-<br>working', showarrow: false, font: {family: FONT, size: 25.5, color: '#000'}},
    {x: 2600, y: 31.62, xref: 'x', yref: 'y', xanchor: 'center', yanchor: 'middle',
     text: 'Working', showarrow: false, font: {family: FONT, size: 25.5, color: '#000'}}
  ]
};

Plotly.newPlot('chart', traces, layout, {displayModeBar: false, staticPlot: true});
</script>
</body>
</html>
